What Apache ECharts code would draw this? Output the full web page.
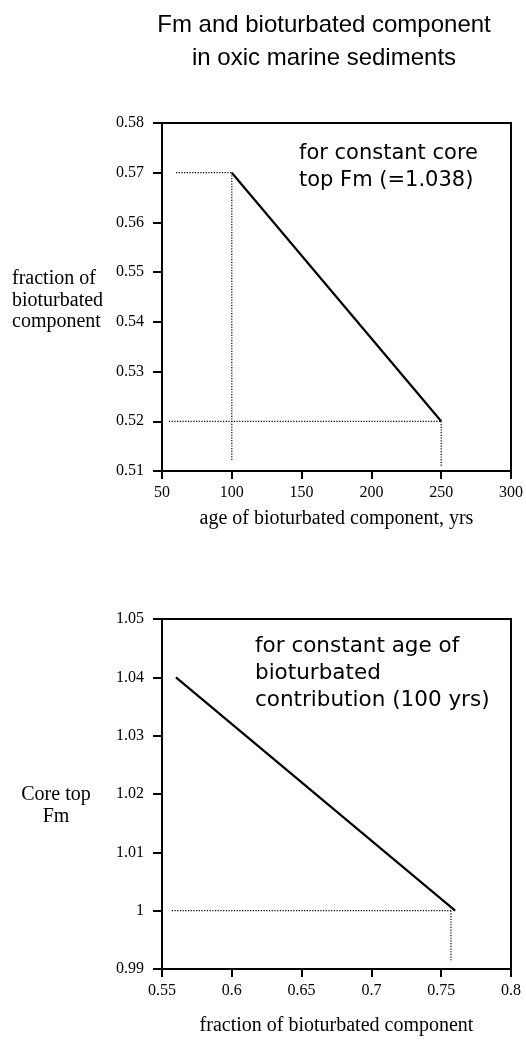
<!DOCTYPE html>
<html>
<head>
<meta charset="utf-8">
<script src="https://cdn.jsdelivr.net/npm/echarts@6/dist/echarts.min.js"></script>
<style>
  html, body { margin: 0; padding: 0; background: #fff; }
  #chart { width: 526px; height: 1040px; }
</style>
</head>
<body>
<div id="chart"></div>
<script>
// top panel: fraction of bioturbated component vs its age
const ageTicks = [50, 300, 50];          // min, max, interval
const fracTicks = [0.51, 0.58, 0.01];
const ageLine = [[100, 0.57], [250, 0.52]];
const ageGuides = [
  [[60, 0.57], [100, 0.57]],
  [[100, 0.57], [100, 0.512]],
  [[55, 0.52], [250, 0.52]],
  [[250, 0.52], [250, 0.511]]
];

// bottom panel: core top Fm vs fraction of bioturbated component
const fracXTicks = [0.55, 0.8, 0.05];
const fmTicks = [0.99, 1.05, 0.01];
const fmLine = [[0.56, 1.04], [0.76, 1.0]];
const fmGuides = [
  [[0.557, 1.0], [0.757, 1.0]],
  [[0.757, 1.0], [0.757, 0.9915]]
];

const serif = '"Liberation Serif", "Times New Roman", serif';
const tickLabel = { color: '#000', fontFamily: serif, fontSize: 16 };

function xAxis(gridIndex, t, name, gap) {
  return {
    type: 'value', gridIndex, min: t[0], max: t[1], interval: t[2],
    name, nameLocation: 'middle', nameGap: gap,
    nameTextStyle: { color: '#000', fontFamily: serif, fontSize: 20 },
    axisLine: { show: true, lineStyle: { color: '#000', width: 2 } },
    axisTick: { show: true, length: 8, lineStyle: { color: '#000', width: 2 } },
    axisLabel: Object.assign({ margin: 14 }, tickLabel),
    splitLine: { show: false }
  };
}
function yAxis(gridIndex, t) {
  return {
    type: 'value', gridIndex, min: t[0], max: t[1], interval: t[2],
    axisLine: { show: true, lineStyle: { color: '#000', width: 2 } },
    axisTick: { show: true, length: 9, lineStyle: { color: '#000', width: 2 } },
    axisLabel: Object.assign({ margin: 18 }, tickLabel),
    splitLine: { show: false }
  };
}
function solid(i, data) {
  return { type: 'line', xAxisIndex: i, yAxisIndex: i, data, symbol: 'none',
    lineStyle: { color: '#000', width: 2.2 }, animation: false };
}
function dotted(i, data) {
  return { type: 'line', xAxisIndex: i, yAxisIndex: i, data, symbol: 'none',
    lineStyle: { color: '#000', width: 1.2, type: [1.2, 1.5] }, animation: false };
}

const chart = echarts.init(document.getElementById('chart'));
chart.setOption({
  backgroundColor: '#fff',
  title: {
    text: 'Fm and bioturbated component\nin oxic marine sediments',
    left: 319, top: 4, textAlign: 'center',
    textStyle: { color: '#000', fontFamily: '"Liberation Sans", Arial, sans-serif',
      fontSize: 24, fontWeight: 'normal', lineHeight: 33 }
  },
  grid: [
    { left: 162, top: 123, width: 349, height: 348, show: true, borderColor: '#000', borderWidth: 2 },
    { left: 162, top: 619, width: 349, height: 350, show: true, borderColor: '#000', borderWidth: 2 }
  ],
  xAxis: [
    xAxis(0, ageTicks, 'age of bioturbated component, yrs', 38),
    xAxis(1, fracXTicks, 'fraction of bioturbated component', 47)
  ],
  yAxis: [yAxis(0, fracTicks), yAxis(1, fmTicks)],
  graphic: [
    { type: 'text', left: 12, top: 268, style: {
      text: 'fraction of\nbioturbated\ncomponent', fill: '#000',
      font: '20px ' + serif, lineHeight: 21.5 } },
    { type: 'text', x: 56, y: 784, style: {
      text: 'Core top\nFm', fill: '#000', align: 'center',
      font: '20px ' + serif, lineHeight: 22 } },
    { type: 'text', left: 299, top: 140, style: {
      text: 'for constant core\ntop Fm (=1.038)', fill: '#000',
      font: '21px "DejaVu Sans", sans-serif', lineHeight: 27 } },
    { type: 'text', left: 255, top: 633, style: {
      text: 'for constant age of\nbioturbated\ncontribution (100 yrs)', fill: '#000',
      font: '21.5px "DejaVu Sans", sans-serif', lineHeight: 27 } }
  ],
  series: [
    solid(0, ageLine),
    ...ageGuides.map(g => dotted(0, g)),
    solid(1, fmLine),
    ...fmGuides.map(g => dotted(1, g))
  ]
});
</script>
</body>
</html>
